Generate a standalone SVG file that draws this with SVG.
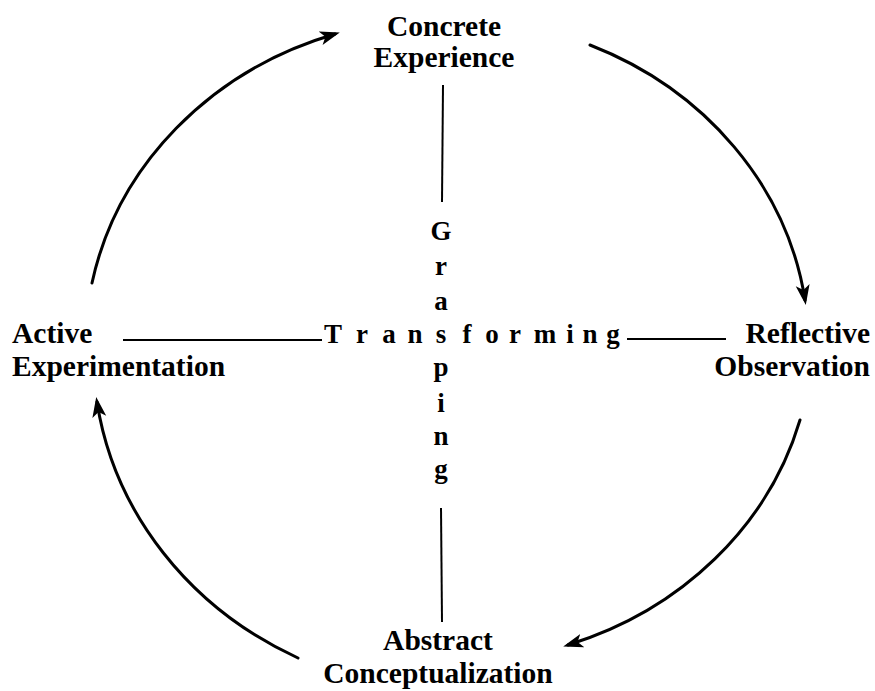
<svg xmlns="http://www.w3.org/2000/svg" width="875" height="691" viewBox="0 0 875 691">
<style>
.lbl{font-family:"Liberation Serif","Times New Roman",serif;font-weight:bold;font-size:29.5px;fill:#000}
.ctr{font-family:"Liberation Serif","Times New Roman",serif;font-weight:bold;font-size:27px;fill:#000;text-anchor:middle}
.arc{fill:none;stroke:#000;stroke-width:3;stroke-linecap:round}
.ln{fill:none;stroke:#000;stroke-width:2}
</style>
<defs>
<marker id="ah" markerUnits="userSpaceOnUse" markerWidth="22" markerHeight="16" refX="15" refY="7" orient="auto" viewBox="0 0 22 16">
<path d="M0,0 L20,7 L0,14 L5,7 z" fill="#000"/>
</marker>
</defs>
<rect width="875" height="691" fill="#fff"/>
<g id="connectors">
<path class="arc" d="M 92 283 A 360 328 0 0 1 335 34" marker-end="url(#ah)"/>
<path class="arc" d="M 590 45 A 360 328 0 0 1 805 300" marker-end="url(#ah)"/>
<path class="arc" d="M 800 420 A 360 328 0 0 1 568 645" marker-end="url(#ah)"/>
<path class="arc" d="M 298 658 A 370 340 0 0 1 97 402" marker-end="url(#ah)"/>
<line class="ln" x1="443" y1="85" x2="442" y2="202"/>
<line class="ln" x1="441" y1="508" x2="442" y2="622"/>
<line class="ln" x1="123" y1="340" x2="322" y2="340"/>
<line class="ln" x1="627" y1="339" x2="726" y2="339"/>
</g>
<g id="concrete-experience">
<text class="lbl" x="444" y="36" text-anchor="middle">Concrete</text>
<text class="lbl" x="444" y="67" text-anchor="middle">Experience</text>
</g>
<g id="reflective-observation">
<text class="lbl" x="870" y="343" text-anchor="end">Reflective</text>
<text class="lbl" x="870" y="376" text-anchor="end">Observation</text>
</g>
<g id="abstract-conceptualization">
<text class="lbl" x="438" y="650" text-anchor="middle">Abstract</text>
<text class="lbl" x="438" y="683" text-anchor="middle">Conceptualization</text>
</g>
<g id="active-experimentation">
<text class="lbl" x="12" y="343">Active</text>
<text class="lbl" x="12" y="376">Experimentation</text>
</g>
<g id="transforming">
<text class="ctr" x="333 362 389 415 441 467 492 515 545 570 590 613" y="343">Transforming</text>
</g>
<g id="grasping">
<text class="ctr" x="441" y="240">G</text>
<text class="ctr" x="441" y="275">r</text>
<text class="ctr" x="441" y="310">a</text>
<text class="ctr" x="441" y="376">p</text>
<text class="ctr" x="441" y="412">i</text>
<text class="ctr" x="441" y="445">n</text>
<text class="ctr" x="441" y="478">g</text>
</g>
</svg>
